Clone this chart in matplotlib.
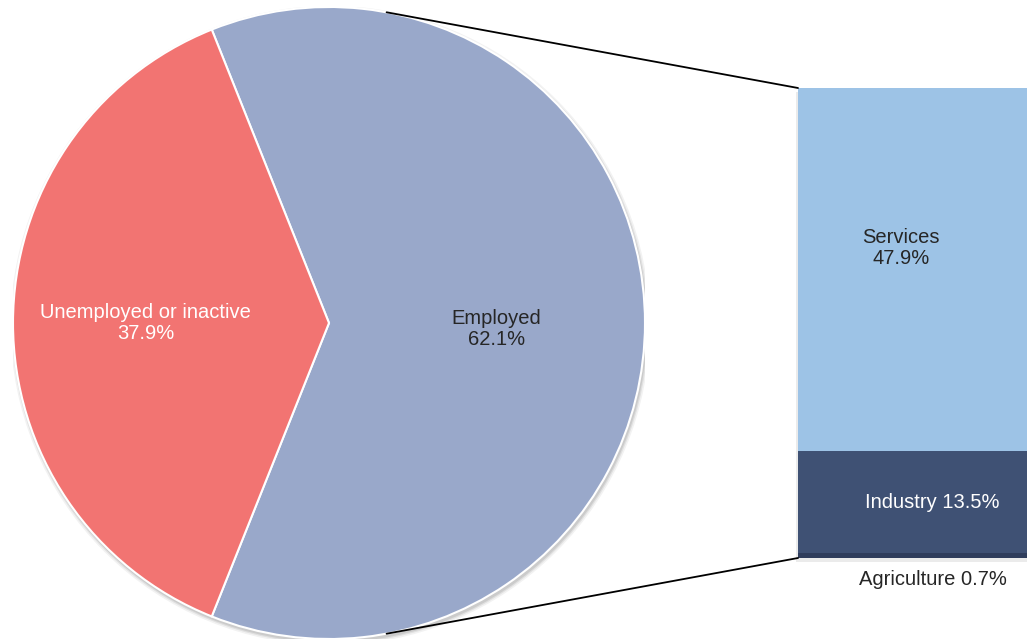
import matplotlib
matplotlib.use('Agg')
import numpy as np
import matplotlib.pyplot as plt
from matplotlib.patches import ConnectionPatch, Circle, Rectangle

plt.rcParams['font.family'] = ['Liberation Sans', 'DejaVu Sans']

pie_labels = ['Employed', 'Unemployed or inactive']
pie_values = [62.1, 37.9]
pie_colors = ['#99a8ca', '#f27472']

bar_labels = ['Agriculture', 'Industry', 'Services']
bar_values = [0.7, 13.5, 47.9]
bar_colors = ['#2f3d5c', '#3f5174', '#9dc3e6']

W, H = 1027, 644
fig = plt.figure(figsize=(W / 100, H / 100), dpi=100)

# pie on the left
ax = fig.add_axes([13 / W, 5 / H, 632 / W, 632 / H])
# soft shadow behind the pie
for r, a in ((1.012, 0.05), (1.007, 0.07), (1.003, 0.09)):
    ax.add_patch(Circle((0.004, -0.008), r, color='black', alpha=a, lw=0, zorder=0))
start = -pie_values[0] / 100 * 360 / 2
wedges, _ = ax.pie(pie_values, colors=pie_colors, startangle=start, radius=1,
                   wedgeprops=dict(edgecolor='white', linewidth=1.5, zorder=2))
ax.set_xlim(-1, 1)
ax.set_ylim(-1, 1)
ax.set_aspect('equal')
ax.axis('off')

fs = 14.5
ax.text(0.53, -0.02, f'{pie_labels[0]}\n{pie_values[0]}%', ha='center', va='center',
        fontsize=fs, color='#262626', linespacing=1.15, zorder=5)
ax.text(-0.58, 0.0, f'{pie_labels[1]}\n{pie_values[1]}%', ha='center', va='center',
        fontsize=fs, color='white', linespacing=1.15, zorder=5)

# stacked bar on the right
bx = fig.add_axes([798 / W, 86 / H, 229 / W, 470 / H])
bx.add_patch(Rectangle((-0.51, -0.5), 1.1, sum(bar_values), color='black', alpha=0.08,
                       lw=0, zorder=0, clip_on=False))
bottom = 0
for lab, val, col in zip(bar_labels, bar_values, bar_colors):
    bx.bar(0, val, width=1, bottom=bottom, color=col, edgecolor='none', zorder=2)
    bottom += val
bx.set_xlim(-0.5, 0.5)
bx.set_ylim(0, sum(bar_values))
bx.axis('off')

bx.text(-0.05, 41.0, f'{bar_labels[2]}\n{bar_values[2]}%',
        ha='center', va='center', fontsize=fs, color='#262626', linespacing=1.15)
bx.text(0.085, 7.3, f'{bar_labels[1]} {bar_values[1]}%',
        ha='center', va='center', fontsize=fs, color='white')
bx.text(0.09, -2.8, f'{bar_labels[0]} {bar_values[0]}%', ha='center', va='center',
        fontsize=fs, color='#262626', clip_on=False)

# connector lines
theta = np.deg2rad(79.5)
for sign, y in ((1, sum(bar_values)), (-1, 0)):
    con = ConnectionPatch(xyA=(np.cos(theta), sign * np.sin(theta)), coordsA=ax.transData,
                          xyB=(-0.5, y), coordsB=bx.transData, color='black', linewidth=1.3)
    fig.add_artist(con)

fig.savefig('out.png', dpi=100)
